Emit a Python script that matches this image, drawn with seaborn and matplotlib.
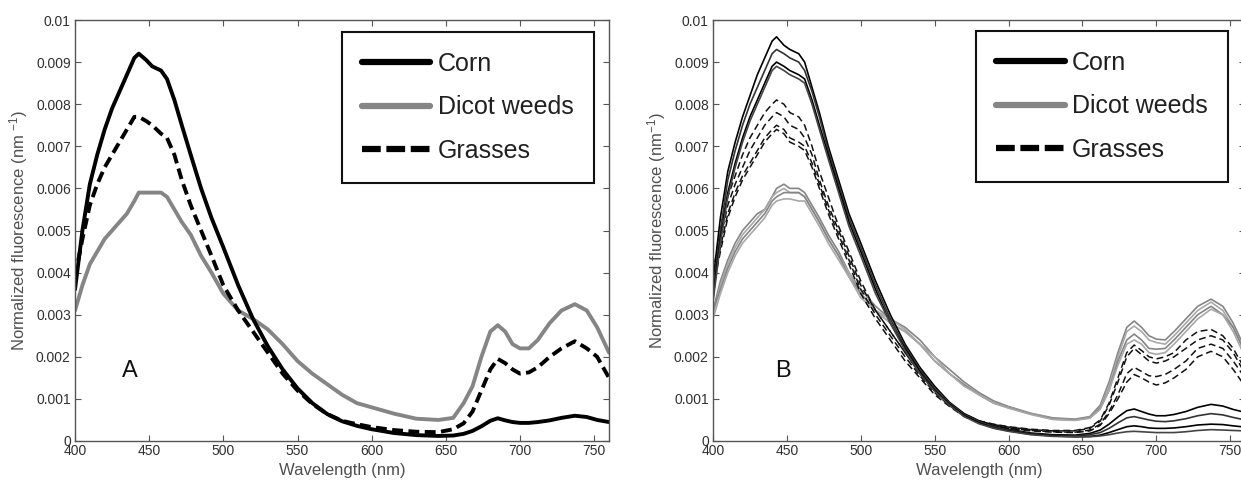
import numpy as np
import pandas as pd
import matplotlib
matplotlib.use("Agg")
import matplotlib.pyplot as plt
from matplotlib.lines import Line2D
import seaborn as sns

# Wavelength grid (nm)
wavelength = [400, 405, 410, 415, 420, 425, 430, 435, 440, 443, 448, 452, 458, 462, 467,
              472, 478, 485, 492, 500, 510, 520, 530, 540, 550, 560, 570, 580, 590, 600,
              615, 630, 645, 655, 662, 668, 674, 680, 685, 690, 695, 700, 706, 712, 720,
              728, 737, 745, 752, 760]

# Panel A: mean normalized fluorescence spectra
corn_mean = [.0036, .0050, .0061, .0068, .0074, .0079, .0083, .0087, .0091, .0092, .00905, .0089, .0088, .0086, .0081,
             .0075, .0068, .0060, .0053, .0046, .0037, .0029, .00225, .0017, .00125, .0009, .00064, .00047, .00036, .00028,
             .00019, .00014, .00012, .00013, .00017, .00024, .00035, .00048, .00054, .00049, .00045, .00043, .00043, .00045, .00049,
             .00055, .0006, .00057, .0005, .00045]
dicot_mean = [.0031, .0037, .0042, .0045, .0048, .0050, .0052, .0054, .0057, .0059, .0059, .0059, .0059, .0058, .0055,
              .0052, .0049, .0044, .0040, .0035, .0031, .0029, .00265, .0023, .0019, .0016, .00135, .0011, .0009, .0008,
              .00065, .00053, .0005, .00055, .0009, .0013, .0020, .0026, .00275, .0026, .0023, .0022, .0022, .0024, .0028,
              .0031, .00325, .0031, .0027, .0021]
grass_mean = [.0039, .0048, .0056, .0061, .0065, .0068, .0071, .0074, .0077, .0077, .0076, .0075, .0073, .0072, .0068,
              .0062, .0056, .0050, .0044, .0037, .0031, .0026, .0021, .0016, .0012, .00088, .00064, .00048, .0004, .00033,
              .00026, .00022, .00021, .00028, .00042, .0007, .0012, .0017, .00195, .00185, .0017, .0016, .00163, .00175, .002,
              .0022, .00237, .0022, .0020, .0015]

# Panel B: individual spectra
corn_1 = [.0038, .0053, .0064, .0071, .0077, .0082, .0087, .0091, .0095, .0096, .0094, .0093, .0092, .0090, .0084,
          .0078, .0070, .0062, .0054, .0047, .0038, .0030, .0023, .00175, .0013, .00092, .00065, .00048, .00036, .00028,
          .00019, .00015, .00014, .00018, .00026, .0004, .00057, .00072, .00076, .0007, .00064, .0006, .0006, .00063, .0007,
          .0008, .00087, .00083, .00075, .00068]
corn_2 = [.0035, .0050, .0062, .0069, .0075, .0080, .0084, .0088, .0092, .0093, .0092, .0091, .0090, .0088, .0083,
          .0077, .0069, .0061, .0053, .0046, .0037, .0029, .00225, .0017, .00125, .0009, .00063, .00046, .00034, .00026,
          .00017, .00013, .00012, .00015, .0002, .0003, .00043, .00055, .00058, .00054, .0005, .00047, .00046, .00048, .00053,
          .0006, .00065, .00062, .00056, .0005]
corn_3 = [.0034, .0048, .0059, .0066, .0072, .0077, .0081, .0085, .0089, .0090, .0089, .0088, .0087, .0086, .0081,
          .0075, .0068, .0060, .0052, .0045, .0036, .0028, .0022, .00165, .0012, .00087, .0006, .00043, .00031, .00024,
          .00016, .00012, .0001, .00011, .00014, .0002, .00027, .00034, .00036, .00034, .00031, .0003, .0003, .00031, .00034,
          .00038, .0004, .00039, .00036, .00033]
corn_4 = [.0033, .0047, .0058, .0065, .0071, .0076, .0080, .0084, .0088, .0089, .0088, .0087, .0086, .0085, .0080,
          .0074, .0067, .0059, .0051, .0044, .0035, .0028, .00215, .0016, .00118, .00085, .00058, .00041, .0003, .00023,
          .00015, .00011, .0001, .0001, .00012, .00015, .00019, .00022, .00023, .00022, .00021, .0002, .0002, .0002, .00022,
          .00025, .00027, .00026, .00025, .00024]

grass_1 = [.0040, .0050, .0058, .0063, .0068, .0072, .0075, .0078, .0080, .0081, .0080, .0078, .0077, .0075, .0070,
           .0064, .0058, .0051, .0045, .0038, .0031, .0026, .0021, .0016, .0012, .00088, .00064, .00048, .0004, .00034,
           .00028, .00025, .00025, .00032, .0005, .0009, .0015, .0021, .00228, .00215, .002, .00195, .002, .0021, .0024,
           .0026, .00265, .0025, .0022, .0017]
grass_2 = [.0038, .0048, .0056, .0061, .0065, .0069, .0072, .0075, .0077, .0078, .0077, .0075, .0074, .0072, .0068,
           .0062, .0056, .0050, .0044, .0037, .0031, .0026, .0021, .0016, .0012, .00087, .00063, .00047, .00039, .00033,
           .00027, .00024, .00024, .0003, .00047, .00085, .0014, .002, .0022, .00205, .0019, .00185, .0019, .002, .0022,
           .0024, .0025, .0024, .0021, .0016]
grass_3 = [.0037, .0046, .0054, .0059, .0063, .0066, .0069, .0072, .0074, .0075, .0074, .0072, .0071, .0070, .0066,
           .0061, .0055, .0049, .0043, .0036, .0030, .0025, .002, .00155, .00115, .00084, .0006, .00045, .00037, .00031,
           .00025, .00022, .00021, .00026, .0004, .0007, .0011, .0016, .00175, .00165, .00155, .00153, .00158, .0017, .0019,
           .0022, .0023, .0022, .0019, .0015]
grass_4 = [.0036, .0045, .0053, .0058, .0062, .0065, .0068, .0071, .0073, .0074, .0073, .0071, .0070, .0069, .0065,
           .0060, .0054, .0048, .0042, .0035, .0029, .0024, .0019, .0015, .0011, .00082, .00058, .00043, .00035, .0003,
           .00024, .00021, .0002, .00024, .00037, .00065, .001, .0014, .00158, .0015, .0014, .00133, .00138, .0015, .0017,
           .002, .00213, .002, .0017, .0013]

dicot_1 = [.0031, .0038, .0043, .0047, .0050, .0052, .0054, .0055, .0058, .0060, .0061, .0060, .0060, .0059, .0056,
           .0053, .0049, .0045, .0040, .0036, .0032, .0029, .0027, .0024, .002, .0017, .0014, .00115, .00095, .00082,
           .00066, .00055, .00052, .00058, .00085, .0014, .0021, .0027, .00285, .0027, .0025, .00242, .0024, .0026, .0029,
           .0032, .00337, .0032, .0028, .0022]
dicot_2 = [.0030, .0037, .0042, .0046, .0049, .0051, .0053, .0055, .0058, .0059, .0060, .0059, .0059, .0058, .0055,
           .0052, .0048, .0044, .0040, .0035, .0031, .0029, .00265, .0023, .002, .0016, .00135, .0011, .0009, .0008,
           .00065, .00053, .0005, .00056, .0008, .0013, .002, .0026, .00273, .0026, .0024, .00234, .0023, .0025, .0028,
           .0031, .0033, .0031, .0027, .0021]
dicot_3 = [.0031, .0036, .0041, .0045, .0048, .0050, .0052, .0054, .0057, .0058, .0059, .0059, .0059, .0058, .0055,
           .0052, .0048, .0044, .0039, .0035, .0031, .0028, .0026, .0023, .0019, .0016, .00133, .0011, .0009, .00079,
           .00064, .00052, .0005, .00055, .00078, .0012, .0019, .0024, .00254, .0024, .0022, .00218, .0022, .0024, .0027,
           .003, .0032, .003, .0027, .0021]
dicot_4 = [.0029, .0035, .0040, .0044, .0047, .0049, .0051, .0053, .0056, .0057, .00575, .00575, .0057, .0057, .0054,
           .0051, .0047, .0043, .0039, .0034, .0031, .0028, .0026, .0023, .0019, .0016, .0013, .0011, .0009, .00078,
           .00063, .00051, .00049, .00054, .00075, .0012, .0018, .0023, .0024, .0023, .0021, .00206, .0021, .0023, .0026,
           .0029, .00313, .003, .0026, .002]

groups = ["Corn", "Dicot weeds", "Grasses"]
x_ticks = [400, 450, 500, 550, 600, 650, 700, 750]
y_ticks = [0, 0.001, 0.002, 0.003, 0.004, 0.005, 0.006, 0.007, 0.008, 0.009, 0.01]
y_tick_labels = ["0", "0.001", "0.002", "0.003", "0.004", "0.005", "0.006", "0.007", "0.008", "0.009", "0.01"]

sns.set_theme(style="ticks")
plt.rcParams["font.family"] = ["Liberation Sans", "DejaVu Sans"]
plt.rcParams["mathtext.default"] = "regular"

BLACK = "#000000"
GRAY = "#858585"
LIGHT_GRAY = "#a8a8a8"
TEXT = "#303030"
LABEL = "#505050"
SPINE = "#555555"

fig = plt.figure(figsize=(12.41, 4.82), dpi=100)
fig.patch.set_facecolor("white")
ax_a = fig.add_axes([75 / 1241, 1 - 441 / 482, 534 / 1241, 421 / 482])
ax_b = fig.add_axes([713 / 1241, 1 - 441 / 482, 532 / 1241, 421 / 482])


def draw(ax, y, color, lw, dashed, dash):
    sns.lineplot(x=wavelength, y=y, ax=ax, color=color, linewidth=lw, legend=False)
    line = ax.lines[-1]
    if dashed:
        line.set_linestyle((0, dash))
    line.set_solid_joinstyle("round")
    line.set_dash_capstyle("butt")


# Panel A: group means
draw(ax_a, dicot_mean, GRAY, 2.8, False, None)
draw(ax_a, grass_mean, BLACK, 2.8, True, (2.8, 1.4))
draw(ax_a, corn_mean, BLACK, 2.8, False, None)

# Panel B: individual spectra
for series, col in [(dicot_1, GRAY), (dicot_2, LIGHT_GRAY), (dicot_3, GRAY), (dicot_4, LIGHT_GRAY)]:
    draw(ax_b, series, col, 1.2, False, None)
for series in [grass_1, grass_2, grass_3, grass_4]:
    draw(ax_b, series, "#111111", 1.1, True, (4.5, 2.5))
for series, col in [(corn_1, BLACK), (corn_2, "#333333"), (corn_3, BLACK), (corn_4, "#444444")]:
    draw(ax_b, series, col, 1.2, False, None)

for ax, ylab, tag, tag_x in [(ax_a, "Normalized fluorescence (nm $^{-1}$)", "A", 437),
                             (ax_b, "Normalized fluorescence (nm$^{-1}$)", "B", 447)]:
    ax.set_xlim(400, 760)
    ax.set_ylim(0, 0.01)
    ax.set_xticks(x_ticks)
    ax.set_xticklabels([str(t) for t in x_ticks])
    ax.set_yticks(y_ticks)
    ax.set_yticklabels(y_tick_labels)
    ax.tick_params(direction="in", length=4, width=0.8, top=True, right=True,
                   labelsize=10, colors=SPINE, labelcolor=TEXT, pad=3)
    ax.tick_params(axis="x", pad=2)
    for sp in ax.spines.values():
        sp.set_color(SPINE)
        sp.set_linewidth(1.0)
    ax.set_xlabel("Wavelength (nm)", fontsize=12, color=LABEL, labelpad=4)
    ax.set_ylabel(ylab, fontsize=12, color=LABEL, labelpad=4)
    ax.text(tag_x, 0.00166, tag, fontsize=17, color="#111111", ha="center", va="center")
    ax.set_facecolor("white")

    handles = [Line2D([], [], color=BLACK, lw=4.5),
               Line2D([], [], color=GRAY, lw=4.5),
               Line2D([], [], color=BLACK, lw=4.5, linestyle=(0, (3.0, 0.9)))]
    leg = ax.legend(handles, groups, loc="upper right",
                    bbox_to_anchor=(0.971, 0.972) if ax is ax_a else (0.968, 0.974),
                    borderaxespad=0, fontsize=18, handlelength=2.75, handletextpad=0.3,
                    labelspacing=0.78, borderpad=0.8, fancybox=False, framealpha=1,
                    edgecolor="#111111")
    leg.get_frame().set_linewidth(1.5)
    for t in leg.get_texts():
        t.set_color("#202020")

fig.savefig("out.png", dpi=100, facecolor="white")
